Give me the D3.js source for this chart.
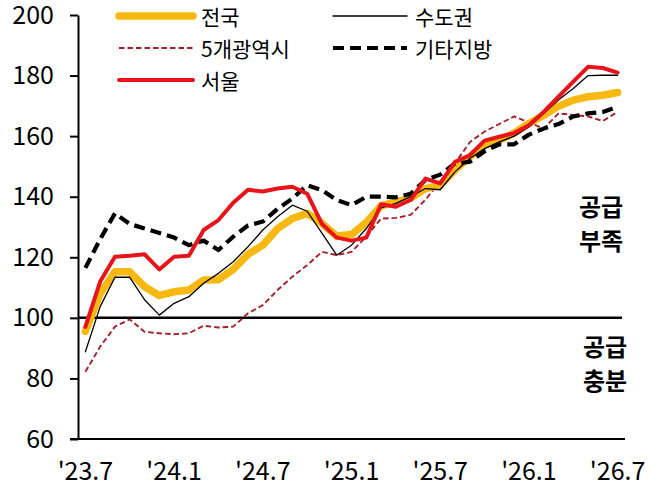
<!DOCTYPE html>
<html>
<head>
<meta charset="utf-8">
<script src="https://cdn.jsdelivr.net/npm/d3@7/dist/d3.min.js"></script>
<style>
  html, body { margin: 0; padding: 0; background: #fff; }
  svg { display: block; font-family: "Noto Sans CJK KR", "Noto Sans", sans-serif; }
</style>
</head>
<body>
<svg id="chart" width="651" height="489"></svg>
<script>
// ---- data ----
const months = [
  "23.7","23.8","23.9","23.10","23.11","23.12",
  "24.1","24.2","24.3","24.4","24.5","24.6",
  "24.7","24.8","24.9","24.10","24.11","24.12",
  "25.1","25.2","25.3","25.4","25.5","25.6",
  "25.7","25.8","25.9","25.10","25.11","25.12",
  "26.1","26.2","26.3","26.4","26.5","26.6","26.7"
];
const tickMonths = ["23.7","24.1","24.7","25.1","25.7","26.1","26.7"];
const yTicks = [60, 80, 100, 120, 140, 160, 180, 200];

const national = [95.5,108,115.2,115.2,110.3,107.4,108.6,109.2,112.5,112.6,116,121,124,129.5,132.8,134.5,131.2,127,127.5,131.5,137,138.3,139.5,142.7,143.8,148.8,153.2,157,158.7,161,164.2,166.9,169.9,171.9,173,173.5,174.4];
const capital = [88.8,103.7,113.4,113.4,106,100.9,104.8,107,111.4,114.7,118.5,123.5,129,133.4,137.2,135.2,128,120.7,124,129.5,136.3,137.8,140,142.7,142.3,148.2,152.6,155.9,158.1,160,163,167.5,171.9,175.7,180,180.1,180.1];
const metro5 = [82.2,90.5,97.1,99.5,95.4,94.9,94.6,94.9,97.4,96.8,97.1,101.5,104.2,109.2,113.6,117.4,121.8,120.7,121.8,126.8,132.8,133,134,139,145,151,158,161.5,164,166.5,164.5,162.5,167.5,167,166.5,165,168];
const others = [116.5,126,134.5,131,129.5,128,126.5,124,125.5,122.4,126.8,130.5,131.8,136,139.4,143.8,142.2,138.9,137.2,140,140,139.8,141,145.5,147.3,151,151.5,155,157.3,157.3,160.5,162.5,164,166.5,167.5,168,169.7];
const seoul = [97,112,120.2,120.5,121,116,120.2,120.5,129,132.3,138,142.3,141.7,142.7,143.3,141,131,126.5,125.5,126.5,137.5,136.7,138.9,146,144.4,151.5,153.7,158.5,159.8,161,163.6,168,173,178,182.9,182.5,181];

const seriesNames = ["전국", "수도권", "5개광역시", "기타지방", "서울"];
const referenceValue = 100;

// ---- styles ----
const styles = {
  "전국":     { color: "#F7B911", width: 7.5, dash: null },
  "수도권":   { color: "#000000", width: 1.3, dash: null },
  "5개광역시": { color: "#A81E2A", width: 1.9, dash: "5.5,3" },
  "기타지방":  { color: "#000000", width: 4.2, dash: "11,6" },
  "서울":     { color: "#E8141B", width: 4,   dash: null }
};
const seriesData = {
  "전국": national, "수도권": capital, "5개광역시": metro5, "기타지방": others, "서울": seoul
};

const svg = d3.select("#chart");
const plotLeft = 78, plotRight = 625, plotTop = 15, plotBottom = 439;

const x = d3.scaleBand().domain(months).range([plotLeft, plotRight]).paddingInner(0).paddingOuter(0);
const y = d3.scaleLinear().domain([60, 200]).range([plotBottom, plotTop]);
const cx = m => x(m) + x.bandwidth() / 2;

// y axis
const yAxis = svg.append("g")
  .attr("transform", `translate(${plotLeft},0)`)
  .call(d3.axisLeft(y).tickValues(yTicks).tickSize(8).tickPadding(16).tickSizeOuter(0));
yAxis.select(".domain").attr("stroke", "#000").attr("stroke-width", 2);
yAxis.selectAll(".tick line").attr("stroke", "#000").attr("stroke-width", 2);
yAxis.selectAll(".tick text").attr("font-size", 25).attr("fill", "#000")
  .attr("font-family", "'Noto Sans CJK KR', sans-serif");

// x axis
const xAxis = svg.append("g")
  .attr("transform", `translate(0,${plotBottom})`)
  .call(d3.axisBottom(x).tickValues(tickMonths).tickSize(0).tickPadding(23)
        .tickFormat(d => "'" + d));
xAxis.select(".domain").attr("stroke", "#000").attr("stroke-width", 2.2)
  .attr("d", `M${plotLeft - 8},0H${plotRight}`);
xAxis.selectAll(".tick text").attr("font-size", 25).attr("fill", "#000")
  .attr("font-family", "'Noto Sans CJK KR', sans-serif");

// reference line at 100
svg.append("line")
  .attr("x1", plotLeft).attr("x2", plotRight - 3)
  .attr("y1", y(referenceValue)).attr("y2", y(referenceValue))
  .attr("stroke", "#000").attr("stroke-width", 2.5);

// lines
const lineGen = d3.line().x((d, i) => cx(months[i])).y(d => y(d)).curve(d3.curveLinear);
const drawOrder = ["5개광역시", "전국", "수도권", "기타지방", "서울"];
drawOrder.forEach(name => {
  const s = styles[name];
  svg.append("path")
    .datum(seriesData[name])
    .attr("fill", "none")
    .attr("stroke", s.color)
    .attr("stroke-width", s.width)
    .attr("stroke-dasharray", s.dash)
    .attr("stroke-linejoin", "round")
    .attr("stroke-linecap", s.dash ? "butt" : "round")
    .attr("d", lineGen);
});

// legend
const legendPos = {
  "전국":     { x: 119, y: 16 },
  "수도권":   { x: 333, y: 16 },
  "5개광역시": { x: 119, y: 48 },
  "기타지방":  { x: 333, y: 48 },
  "서울":     { x: 119, y: 80 }
};
seriesNames.forEach(name => {
  const p = legendPos[name], s = styles[name];
  const g = svg.append("g");
  g.append("line")
    .attr("x1", p.x).attr("x2", p.x + 74)
    .attr("y1", p.y).attr("y2", p.y)
    .attr("stroke", s.color).attr("stroke-width", s.width)
    .attr("stroke-dasharray", s.dash)
    .attr("stroke-linecap", s.dash ? "butt" : "round");
  g.append("text")
    .attr("x", p.x + 82).attr("y", p.y)
    .attr("dominant-baseline", "central")
    .attr("font-size", 21).attr("fill", "#000")
    .text(name);
});

// annotations
const annotations = [
  { lines: ["공급", "부족"], x: 601, y: 205 },
  { lines: ["공급", "충분"], x: 605, y: 345 }
];
annotations.forEach(a => {
  a.lines.forEach((t, i) => {
    svg.append("text")
      .attr("x", a.x).attr("y", a.y + i * 34)
      .attr("text-anchor", "middle")
      .attr("dominant-baseline", "central")
      .attr("font-size", 24).attr("font-weight", 700)
      .attr("fill", "#000")
      .text(t);
  });
});
</script>
</body>
</html>
